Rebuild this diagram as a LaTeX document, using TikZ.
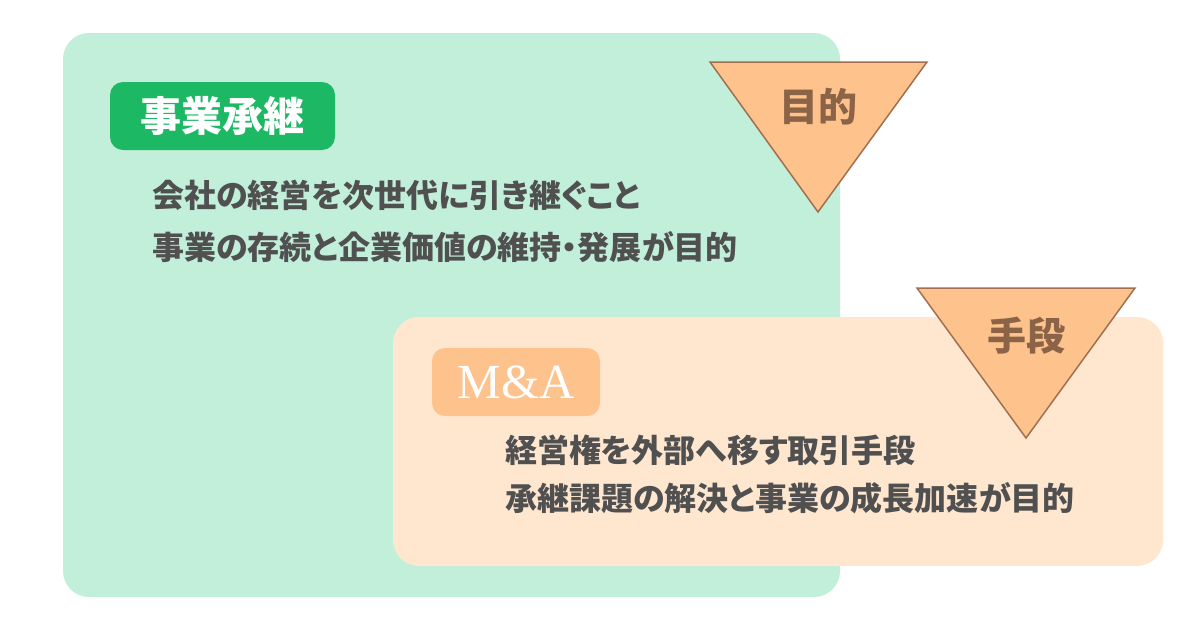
\documentclass[tikz,border=0pt]{standalone}
\usepackage{fontspec}
\usepackage{tikz}
\usetikzlibrary{positioning}
\newfontfamily\jp{Noto Sans CJK JP}[RawFeature=+palt]
\newfontfamily\mafont{Liberation Serif}
\definecolor{mintbg}{HTML}{C2EFDA}
\definecolor{peachbg}{HTML}{FFE6CF}
\definecolor{greentag}{HTML}{1DB864}
\definecolor{orangetag}{HTML}{FEC28C}
\definecolor{tribrown}{HTML}{A07050}
\definecolor{tritext}{HTML}{8B6347}
\definecolor{bodytext}{HTML}{505050}
\tikzset{
  panel/.style={rounded corners=26pt, draw=none},
  tag/.style={rounded corners=13pt, inner sep=0pt, minimum height=68pt},
  body/.style={anchor=west, inner sep=0pt, text=bodytext, font=\jp\bfseries\fontsize{32}{32}\selectfont},
  tri/.style={fill=orangetag, draw=tribrown, line width=1.5pt, line join=miter},
  trilabel/.style={text=tritext, font=\jp\bfseries\fontsize{39}{39}\selectfont}
}
\begin{document}
\begin{tikzpicture}[x=1pt,y=-1pt]
  \useasboundingbox (0,0) rectangle (1200,630);
  \fill[white] (0,0) rectangle (1200,630);
  % panels
  \fill[panel, mintbg] (63,33) rectangle (840,597);
  \fill[panel, peachbg] (393,317) rectangle (1163,566);
  % heading tags
  \node[tag, fill=greentag, minimum width=225pt, text=white,
        font=\jp\bfseries\fontsize{41}{41}\selectfont] (jigyo) at (222.5,116) {事業承継};
  \node[tag, fill=orangetag, minimum width=168pt, text=white,
        font=\mafont\fontsize{49}{49}\selectfont] (ma) at (516,382) {M\&A};
  % body lines
  \node[body] (jline1) at (152,195) {会社の経営を次世代に引き継ぐこと};
  \node[body] (jline2) at (152,247) {事業の存続と企業価値の維持・発展が目的};
  \node[body] (mline1) at (505,450) {経営権を外部へ移す取引手段};
  \node[body] (mline2) at (505,498) {承継課題の解決と事業の成長加速が目的};
  % triangles
  \draw[tri] (710,62) -- (927,62) -- (818,212) -- cycle;
  \node[trilabel] (mokuteki) at (818,107) {目的};
  \draw[tri] (917,288) -- (1135,288) -- (1026,438) -- cycle;
  \node[trilabel] (shudan) at (1026,336) {手段};
\end{tikzpicture}
\end{document}
